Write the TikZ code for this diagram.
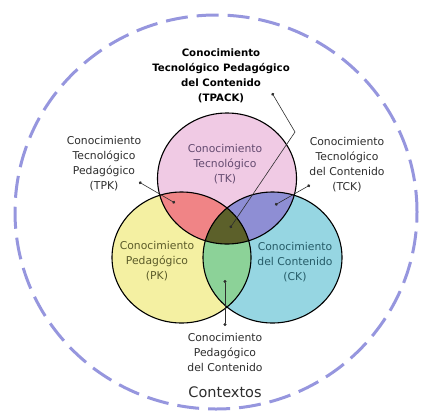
\documentclass[tikz,border=0pt]{standalone}
\usepackage{fontspec}
\setmainfont{DejaVu Sans}
\usetikzlibrary{arrows.meta}

\definecolor{tkpink}{RGB}{240,202,228}
\definecolor{pkyellow}{RGB}{244,240,162}
\definecolor{ckcyan}{RGB}{150,214,226}
\definecolor{tpkred}{RGB}{240,132,134}
\definecolor{tckblue}{RGB}{142,142,212}
\definecolor{pckgreen}{RGB}{140,210,152}
\definecolor{tpackolive}{RGB}{92,96,42}
\definecolor{ctxblue}{RGB}{150,150,222}
\definecolor{labgray}{RGB}{45,45,45}

\begin{document}
\begin{tikzpicture}[x=1pt,y=-1pt]
  \tikzset{venn/.style = {x radius=69.5pt, y radius=65.5pt}}
  \tikzset{ring/.style = {draw=black, line width=1.1pt}}
  \tikzset{note/.style = {align=center, text=labgray, inner sep=0pt, font=\fontsize{10.8}{15}\selectfont}}
  \tikzset{pointer/.style = {{Circle[length=3pt]}-{Circle[length=3pt]}, labgray, line width=0.6pt}}

\useasboundingbox (0,0) rectangle (422,410);

\coordinate (tk) at (227,178.5);
\coordinate (pk) at (181.5,257.5);
\coordinate (ck) at (272.5,257.5);

% contexts
\draw[ctxblue, line width=3pt, dash pattern=on 22pt off 9pt] (216,212) ellipse [x radius=201pt, y radius=197pt];

\fill[tkpink] (tk) ellipse [venn];
\fill[pkyellow] (pk) ellipse [venn];
\fill[ckcyan] (ck) ellipse [venn];

\begin{scope}
  \clip (tk) ellipse [venn];
  \fill[tpkred] (pk) ellipse [venn];
  \fill[tckblue] (ck) ellipse [venn];
\end{scope}
\begin{scope}
  \clip (pk) ellipse [venn];
  \fill[pckgreen] (ck) ellipse [venn];
  \clip (ck) ellipse [venn];
  \fill[tpackolive] (tk) ellipse [venn];
\end{scope}

\draw[ring] (tk) ellipse [venn];
\draw[ring] (pk) ellipse [venn];
\draw[ring] (ck) ellipse [venn];

\node[note, text={rgb,255:red,100;green,75;blue,112}] (tktext) at (225,164) {Conocimiento\\Tecnológico\\(TK)};
\node[note, text={rgb,255:red,92;green,92;blue,42}] (pktext) at (157,261) {Conocimiento\\Pedagógico\\(PK)};
\node[note, text={rgb,255:red,38;green,92;blue,104}] (cktext) at (295,262) {Conocimiento\\del Contenido\\(CK)};

\node[note, text=black, font=\bfseries\fontsize{10.2}{15}\selectfont] (tpack) at (221,75.5) {Conocimiento\\Tecnológico Pedagógico\\del Contenido\\(TPACK)};
\node[note] (tpk) at (104,163.5) {Conocimiento\\Tecnológico\\Pedagógico\\(TPK)};
\node[note] (tck) at (347,165) {Conocimiento\\Tecnológico\\del Contenido\\(TCK)};
\node[note] (pck) at (225,352) {Conocimiento\\Pedagógico\\del Contenido};
\node[note, font=\fontsize{14.5}{16}\selectfont] (ctx) at (225,392) {Contextos};

\coordinate (tpack-a) at (272,93);
\coordinate (tpack-b) at (295,132);
\coordinate (tpack-c) at (230,228);
\coordinate (tpk-a) at (139,182);
\coordinate (tpk-b) at (175,203);
\coordinate (tck-a) at (310,185);
\coordinate (tck-b) at (275,205);
\coordinate (pck-a) at (225,326);
\coordinate (pck-b) at (225,280);

\draw[pointer] (tpack-a) -- (tpack-b) -- (tpack-c);
\path (tpk-a) edge[pointer] (tpk-b);
\path (tck-a) edge[pointer] (tck-b);
\path (pck-a) edge[pointer] (pck-b);

\end{tikzpicture}
\end{document}
